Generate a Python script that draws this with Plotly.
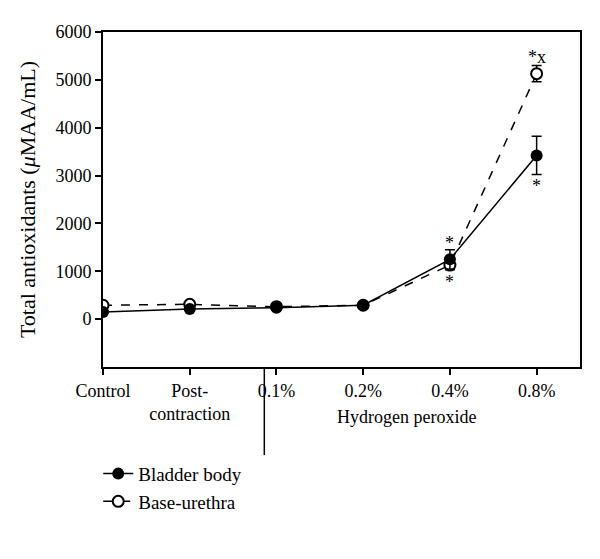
import plotly.graph_objects as go

# categories on the x axis
groups = ['Control', 'Post-<br>contraction', '0.1%', '0.2%', '0.4%', '0.8%']

# series values
bladder_body = [150, 210, 240, 290, 1250, 3420]
bladder_err = [0, 0, 0, 0, 200, 400]
base_urethra = [290, 310, 260, 290, 1130, 5130]
base_err = [0, 0, 0, 0, 100, 170]

# significance marks: (x index, y value, text)
marks = [(4, 1600, '*'), (4, 780, '*'), (5, 5480, '*x'), (5, 2780, '*')]

xs = list(range(len(groups)))
fam = 'Liberation Serif, Times New Roman, serif'
font = dict(family=fam, size=18, color='black')

fig = go.Figure()
fig.add_trace(go.Scatter(
    x=xs, y=base_urethra, name='Base-urethra', mode='lines+markers',
    line=dict(color='black', width=1.5, dash='dash'),
    marker=dict(symbol='circle', size=11, color='white', line=dict(color='black', width=2)),
    error_y=dict(type='data', array=base_err, color='black', thickness=1.5, width=5),
))
fig.add_trace(go.Scatter(
    x=xs, y=bladder_body, name='Bladder body', mode='lines+markers',
    line=dict(color='black', width=1.5),
    marker=dict(symbol='circle', size=12, color='black'),
    error_y=dict(type='data', array=bladder_err, color='black', thickness=1.5, width=5),
))

for xi, yv, t in marks:
    fig.add_annotation(x=xi, y=yv, text=t, showarrow=False,
                       font=dict(family=fam, size=18, color='black'))

fig.add_annotation(x=3.5, y=-0.185, yref='paper', text='Hydrogen peroxide',
                   showarrow=False, font=font)
fig.add_shape(type='line', x0=1.86, x1=1.86, y0=0, y1=-0.263, yref='paper',
              line=dict(color='black', width=1.5))

# page body has an 8px margin, so the figure is sized to fit what remains
fig.update_layout(
    width=592, height=551,
    margin=dict(l=95, r=20, t=24, b=192, autoexpand=False),
    plot_bgcolor='white', paper_bgcolor='white',
    font=font,
    showlegend=True,
    legend=dict(x=-0.01, y=-0.262, xanchor='left', yanchor='top', traceorder='reversed',
                font=dict(family=fam, size=19, color='black'),
                bgcolor='rgba(0,0,0,0)', itemwidth=30),
)
fig.update_xaxes(range=[0, 5.5], tickvals=xs, ticktext=groups,
                 showline=True, linecolor='black', linewidth=2, mirror=True,
                 ticks='outside', ticklen=6, tickwidth=1.5, tickcolor='black',
                 showgrid=False, zeroline=False)
fig.update_yaxes(range=[-1000, 6000], tickvals=[0, 1000, 2000, 3000, 4000, 5000, 6000],
                 title=dict(text='Total antioxidants (<i>μ</i>MAA/mL)', standoff=14),
                 showline=True, linecolor='black', linewidth=2, mirror=True,
                 ticks='outside', ticklen=6, tickwidth=1.5, tickcolor='black',
                 showgrid=False, zeroline=False)

fig.write_html('out.html')
